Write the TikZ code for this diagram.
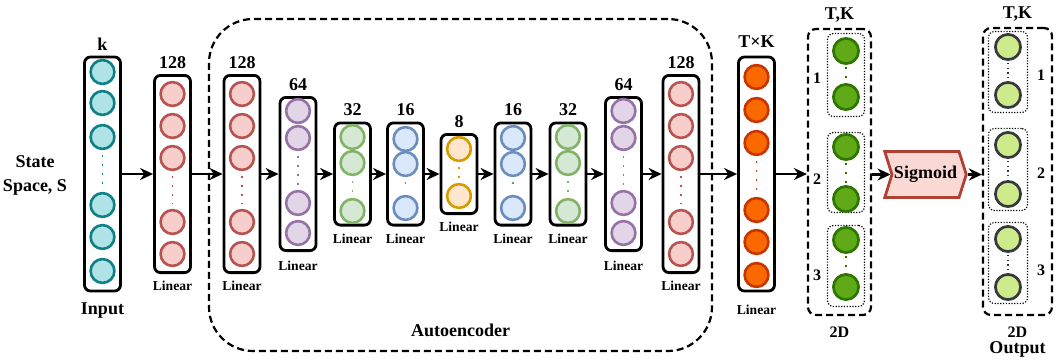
\documentclass[tikz,border=0pt]{standalone}
\usepackage{fontspec}
\setmainfont{Liberation Serif}
\usetikzlibrary{positioning,arrows.meta,shapes.symbols}

\definecolor{inFill}{HTML}{B0E3E6}  \definecolor{inLine}{HTML}{0E8088}
\definecolor{redFill}{HTML}{F8CECC} \definecolor{redLine}{HTML}{B85450}
\definecolor{purFill}{HTML}{E1D5E7} \definecolor{purLine}{HTML}{9673A6}
\definecolor{grnFill}{HTML}{D5E8D4} \definecolor{grnLine}{HTML}{82B366}
\definecolor{bluFill}{HTML}{DAE8FC} \definecolor{bluLine}{HTML}{6C8EBF}
\definecolor{ornFill}{HTML}{FFE6CC} \definecolor{ornLine}{HTML}{D79B00}
\definecolor{tkFill}{HTML}{FA6800}  \definecolor{tkLine}{HTML}{C73500}
\definecolor{twoFill}{HTML}{60A917} \definecolor{twoLine}{HTML}{2D7600}
\definecolor{outFill}{HTML}{CDEB8B} \definecolor{outLine}{HTML}{36393D}
\definecolor{sigFill}{HTML}{FAD9D5} \definecolor{sigLine}{HTML}{AE4132}

\tikzset{
  neuron/.style={circle, inner sep=0pt, minimum size=11.9pt, line width=1.3pt},
  bigneuron/.style={neuron, minimum size=12.6pt, line width=1.35pt},
  layerbox/.style={draw, line width=1.4pt, rounded corners=3pt, inner sep=0pt, minimum width=18pt},
  groupbox/.style={draw, line width=1.1pt, dash pattern=on 3.5pt off 2pt, inner sep=0pt},
  slot/.style={draw, line width=0.6pt, dash pattern=on 0.6pt off 0.8pt, rounded corners=3pt, inner sep=0pt},
  sizelab/.style={font=\bfseries\fontsize{9}{10}\selectfont, inner sep=1pt},
  actlab/.style={font=\bfseries\fontsize{6.8}{8}\selectfont, inner sep=1pt},
  idxlab/.style={font=\bfseries\fontsize{8}{9}\selectfont, inner sep=1pt},
  flow/.style={-{Stealth[length=6.5pt,width=6pt]}, line width=1.1pt},
  dotline/.style={line width=0.9pt, dash pattern=on 0.9pt off 3.6pt, shorten <=2.5pt, shorten >=2.5pt}
}

% one column of neurons: name, x, fill, line, y positions
\newcommand{\neurons}[5]{%
  \foreach \yy [count=\nn] in {#5}
    {\node[neuron, fill=#3, draw=#4] (#1-\nn) at (#2,\yy) {};}}

\begin{document}
\begin{tikzpicture}[x=0.5pt, y=-0.5pt]
\useasboundingbox (0,0) rectangle (1056,361);

% autoencoder frame
\node[groupbox, rounded corners=22pt, minimum width=251.5pt, minimum height=166pt] (ae) at (460.5,185) {};
\node[sizelab] (aelab) at (460.5,330) {Autoencoder};

\node[sizelab, align=center, font=\bfseries\fontsize{9}{12}\selectfont] (state) at (35,175) {State\\Space, S};

% layer boxes
\node[layerbox, minimum height=117pt] (inp) at (102.5,174) {};
\node[layerbox, minimum height=98.6pt] (e128a) at (172.5,174) {};
\node[layerbox, minimum height=98.6pt] (e128b) at (242,174) {};
\node[layerbox, minimum height=76.6pt] (e64) at (298,174) {};
\node[layerbox, minimum height=51.1pt] (e32) at (352.5,174) {};
\node[layerbox, minimum height=51.1pt] (e16) at (405.5,174) {};
\node[layerbox, minimum height=39.6pt] (code) at (459,174) {};
\node[layerbox, minimum height=51.1pt] (d16) at (513,174) {};
\node[layerbox, minimum height=51.1pt] (d32) at (568,174) {};
\node[layerbox, minimum height=76.6pt] (d64) at (623.5,174) {};
\node[layerbox, minimum height=98.6pt] (d128) at (681,174) {};
\node[layerbox, minimum height=117pt] (tk) at (756.5,174) {};

% neurons
\neurons{inp}{102.5}{inFill}{inLine}{72,103,137,205,237,271}
\neurons{e128a}{172.5}{redFill}{redLine}{94,126,158,222,254}
\neurons{e128b}{242}{redFill}{redLine}{94,126,158,222,254}
\neurons{e64}{298}{purFill}{purLine}{111,138,203,233}
\neurons{e32}{352.5}{grnFill}{grnLine}{137,163,211}
\neurons{e16}{405.5}{bluFill}{bluLine}{139,164,208}
\neurons{code}{459}{ornFill}{ornLine}{149,196}
\neurons{d16}{513}{bluFill}{bluLine}{138,164,208}
\neurons{d32}{568}{grnFill}{grnLine}{137,163,211}
\neurons{d64}{623.5}{purFill}{purLine}{111,138,203,233}
\neurons{d128}{681}{redFill}{redLine}{94,126,158,222,254}
\neurons{tk}{756.5}{tkFill}{tkLine}{77,110,143,210,242,275}

\draw[dotline, inLine] (inp-3) -- (inp-4);
\draw[dotline, redLine] (e128a-3) -- (e128a-4);
\draw[dotline, redLine] (e128b-3) -- (e128b-4);
\draw[dotline, purLine] (e64-2) -- (e64-3);
\draw[dotline, grnLine] (e32-2) -- (e32-3);
\draw[dotline, bluLine] (e16-2) -- (e16-3);
\draw[dotline, ornLine] (code-1) -- (code-2);
\draw[dotline, bluLine] (d16-2) -- (d16-3);
\draw[dotline, grnLine] (d32-2) -- (d32-3);
\draw[dotline, purLine] (d64-2) -- (d64-3);
\draw[dotline, redLine] (d128-3) -- (d128-4);
\draw[dotline, tkLine] (tk-3) -- (tk-4);

% sizes and activations
\node[sizelab, above=1.5pt of inp] (inp-n) {k};
\node[sizelab, above=1.5pt of e128a] (e128a-n) {128};
\node[sizelab, above=1.5pt of e128b] (e128b-n) {128};
\node[sizelab, above=1.5pt of e64] (e64-n) {64};
\node[sizelab, above=1.5pt of e32] (e32-n) {32};
\node[sizelab, above=1.5pt of e16] (e16-n) {16};
\node[sizelab, above=1.5pt of code] (code-n) {8};
\node[sizelab, above=1.5pt of d16] (d16-n) {16};
\node[sizelab, above=1.5pt of d32] (d32-n) {32};
\node[sizelab, above=1.5pt of d64] (d64-n) {64};
\node[sizelab, above=1.5pt of d128] (d128-n) {128};
\node[sizelab, above=3pt of tk] (tk-n) {T×K};

\node[sizelab, below=4pt of inp] (inp-a) {Input};
\node[actlab, below=2.5pt of e128a] (e128a-a) {Linear};
\node[actlab, below=2.5pt of e128b] (e128b-a) {Linear};
\node[actlab, below=3.5pt of e64] (e64-a) {Linear};
\node[actlab, below=2.5pt of e32] (e32-a) {Linear};
\node[actlab, below=2.5pt of e16] (e16-a) {Linear};
\node[actlab, below=2.5pt of code] (code-a) {Linear};
\node[actlab, below=2.5pt of d16] (d16-a) {Linear};
\node[actlab, below=2.5pt of d32] (d32-a) {Linear};
\node[actlab, below=3.5pt of d64] (d64-a) {Linear};
\node[actlab, below=2.5pt of d128] (d128-a) {Linear};
\node[actlab, below=5pt of tk] (tk-a) {Linear};

% reshaped 2D grid
\node[groupbox, rounded corners=4pt, minimum width=31.5pt, minimum height=143pt] (grid) at (839.5,172) {};
\node[slot, minimum width=18.5pt, minimum height=41.5pt] (grid-a) at (846,75) {};
\node[slot, minimum width=18.5pt, minimum height=40pt] (grid-b) at (846,172.5) {};
\node[slot, minimum width=18.5pt, minimum height=40.5pt] (grid-c) at (846,266) {};
\foreach \nm/\ya/\yb in {a/51/97, b/147/199, c/240/287} {
  \node[bigneuron, fill=twoFill, draw=twoLine] (g\nm1) at (846,\ya) {};
  \node[bigneuron, fill=twoFill, draw=twoLine] (g\nm2) at (846,\yb) {};
  \draw[dotline, twoLine, shorten <=1pt, shorten >=1pt] (g\nm1) -- (g\nm2);
}
\node[idxlab] (grid-1) at (817,78) {1};
\node[idxlab] (grid-2) at (817,179) {2};
\node[idxlab] (grid-3) at (817,275) {3};
\node[sizelab, above=1.5pt of grid] (grid-n) {T,K};
\node[idxlab, below=4pt of grid] (grid-d) {2D};

% sigmoid
\node[signal, signal from=west, signal to=east, signal pointer angle=145, draw=sigLine, fill=sigFill,
  line width=1.4pt, inner xsep=2pt, minimum width=39pt, minimum height=23pt, sizelab] (sig) at (925.5,174.5) {Sigmoid};

% output grid
\node[groupbox, rounded corners=4pt, minimum width=34.5pt, minimum height=143.5pt] (res) at (1017.5,171.5) {};
\node[slot, minimum width=19.5pt, minimum height=40.5pt] (res-a) at (1008,72) {};
\node[slot, minimum width=19.5pt, minimum height=41pt] (res-b) at (1008,169.5) {};
\node[slot, minimum width=19.5pt, minimum height=40.5pt] (res-c) at (1008,263) {};
\foreach \nm/\ya/\yb in {a/47/95, b/145/194, c/239/287} {
  \node[bigneuron, fill=outFill, draw=outLine] (o\nm1) at (1008,\ya) {};
  \node[bigneuron, fill=outFill, draw=outLine] (o\nm2) at (1008,\yb) {};
  \draw[dotline, outLine, line width=0.7pt, dash pattern=on 0.7pt off 1.6pt, shorten <=1pt, shorten >=1pt] (o\nm1) -- (o\nm2);
}
\node[idxlab] (res-1) at (1041,75) {1};
\node[idxlab] (res-2) at (1041,173) {2};
\node[idxlab] (res-3) at (1041,270) {3};
\node[sizelab, above=1.5pt of res] (res-n) {T,K};
\node[idxlab, below=4pt of res] (res-d) {2D};
\node[sizelab, below=0pt of res-d] (res-o) {Output};

% connections
\draw[flow] (inp) -- (e128a);
\draw[flow] (e128a) -- (e128b);
\draw[flow] (e128b) -- (e64);
\draw[flow] (e64) -- (e32);
\draw[flow] (e32) -- (e16);
\draw[flow] (e16) -- (code);
\draw[flow] (code) -- (d16);
\draw[flow] (d16) -- (d32);
\draw[flow] (d32) -- (d64);
\draw[flow] (d64) -- (d128);
\draw[flow] (d128) -- (tk);
\draw[flow] (tk) -- (tk -| grid.west);
\draw[flow] (grid.east |- sig) -- (sig.west);
\draw[flow] (sig.east) -- (sig.east -| res.west);
\end{tikzpicture}
\end{document}
